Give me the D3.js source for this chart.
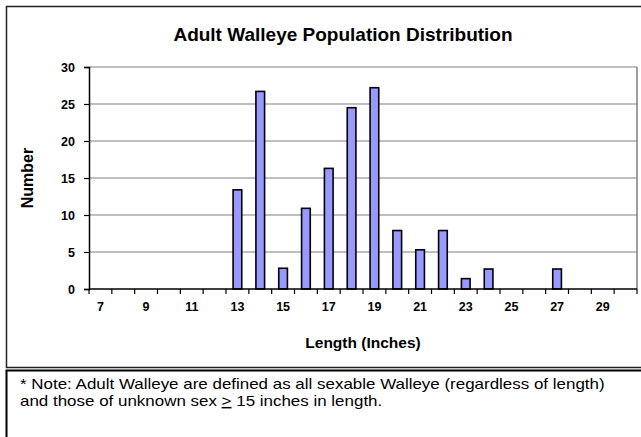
<!DOCTYPE html>
<html>
<head>
<meta charset="utf-8">
<script src="https://cdn.jsdelivr.net/npm/d3@7"></script>
<style>
  html, body { margin: 0; padding: 0; background: #fff; }
  svg { display: block; font-family: "Liberation Sans", Arial, sans-serif; }
</style>
</head>
<body>
<svg id="chart" width="641" height="437"></svg>
<script>
// ---- data ----
const categories = [7,8,9,10,11,12,13,14,15,16,17,18,19,20,21,22,23,24,25,26,27,28,29,30];
const values     = [0,0,0,0,0,0,13.4,26.7,2.8,10.9,16.3,24.5,27.2,7.9,5.3,7.9,1.4,2.7,0,0,2.7,0,0,0];
const xTickLabels = [7,9,11,13,15,17,19,21,23,25,27,29];
const yTicks = [0,5,10,15,20,25,30];
const titleText = "Adult Walleye Population Distribution";
const xTitle = "Length (Inches)";
const yTitle = "Number";
const noteLine1 = "* Note: Adult Walleye are defined as all sexable Walleye (regardless of length)";
const noteLine2Parts = [
  {t: "and those of unknown sex ", u: false},
  {t: ">", u: true},
  {t: " 15 inches in length.", u: false}
];

const svg = d3.select("#chart");

// outer chart frame
svg.append("rect").attr("x", 6.5).attr("y", 6.5).attr("width", 640).attr("height", 361)
  .attr("fill", "#fff").attr("stroke", "#222").attr("stroke-width", 1.5);
// note frame
svg.append("rect").attr("x", 6.5).attr("y", 370.5).attr("width", 640).attr("height", 80)
  .attr("fill", "#fff").attr("stroke", "#000").attr("stroke-width", 2);

const plot = {left: 89, right: 637, top: 67, bottom: 289};

const x = d3.scaleBand().domain(categories).range([plot.left, plot.right]).padding(0);
const y = d3.scaleLinear().domain([0, 30]).range([plot.bottom, plot.top]);

// gridlines
svg.append("g").selectAll("line").data(yTicks.filter(d => d > 0)).join("line")
  .attr("x1", plot.left).attr("x2", plot.right)
  .attr("y1", d => y(d)).attr("y2", d => y(d))
  .attr("stroke", "#808080").attr("stroke-width", 1.2);
// right border of plot
svg.append("line").attr("x1", plot.right).attr("x2", plot.right)
  .attr("y1", plot.top).attr("y2", plot.bottom)
  .attr("stroke", "#808080").attr("stroke-width", 1.5);

// bars
const barW = x.bandwidth() * 0.38;
svg.append("g").selectAll("rect")
  .data(categories.map((c, i) => ({c, v: values[i]})).filter(d => d.v > 0))
  .join("rect")
  .attr("x", d => x(d.c) + (x.bandwidth() - barW) / 2)
  .attr("y", d => y(d.v))
  .attr("width", barW)
  .attr("height", d => y(0) - y(d.v))
  .attr("fill", "#9999FF")
  .attr("stroke", "#000").attr("stroke-width", 1.6);

// y axis
const yAxis = svg.append("g").attr("transform", `translate(${plot.left},0)`)
  .call(d3.axisLeft(y).tickValues(yTicks).tickSize(5).tickPadding(9).tickFormat(d3.format("d")));
yAxis.select(".domain").attr("stroke", "#000").attr("stroke-width", 1.5);
yAxis.selectAll(".tick line").attr("stroke", "#000").attr("stroke-width", 1.2);
yAxis.selectAll("text").attr("font-size", 12.5).attr("font-weight", "bold").attr("fill", "#000")
  .attr("font-family", "Liberation Sans, Arial, sans-serif");

// x axis: labels every other category
const xAxis = svg.append("g").attr("transform", `translate(0,${plot.bottom})`)
  .call(d3.axisBottom(x).tickValues(xTickLabels).tickSize(0).tickPadding(13));
xAxis.select(".domain").remove();
xAxis.selectAll("text").attr("font-size", 12.5).attr("font-weight", "bold").attr("fill", "#000")
  .attr("font-family", "Liberation Sans, Arial, sans-serif");
// x axis line and boundary ticks
svg.append("line").attr("x1", plot.left).attr("x2", plot.right)
  .attr("y1", plot.bottom).attr("y2", plot.bottom)
  .attr("stroke", "#000").attr("stroke-width", 1.5);
const bounds = categories.map(c => x(c)).concat([x(categories[categories.length - 1]) + x.bandwidth()]);
svg.append("g").selectAll("line").data(bounds).join("line")
  .attr("x1", d => d).attr("x2", d => d)
  .attr("y1", plot.bottom).attr("y2", plot.bottom + 5)
  .attr("stroke", "#000").attr("stroke-width", 1.2);

// titles
svg.append("text").attr("x", 343).attr("y", 41).attr("text-anchor", "middle")
  .attr("font-size", 19).attr("font-weight", "bold").text(titleText);
svg.append("text").attr("x", (plot.left + plot.right) / 2).attr("y", 348).attr("text-anchor", "middle")
  .attr("font-size", 15.5).attr("font-weight", "bold").text(xTitle);
svg.append("text").attr("transform", `translate(33,${(plot.top + plot.bottom) / 2}) rotate(-90)`)
  .attr("text-anchor", "middle").attr("font-size", 16).attr("font-weight", "bold").text(yTitle);

// note (slightly wide face in the reference)
svg.append("text")
  .attr("transform", `translate(20,389) scale(1.13,1)`)
  .attr("font-size", 15).text(noteLine1);
const line2 = svg.append("text")
  .attr("transform", `translate(20,406) scale(1.13,1)`)
  .attr("font-size", 15);
line2.selectAll("tspan").data(noteLine2Parts).join("tspan")
  .attr("text-decoration", d => d.u ? "underline" : null)
  .style("white-space", "pre")
  .text(d => d.t);
</script>
</body>
</html>
